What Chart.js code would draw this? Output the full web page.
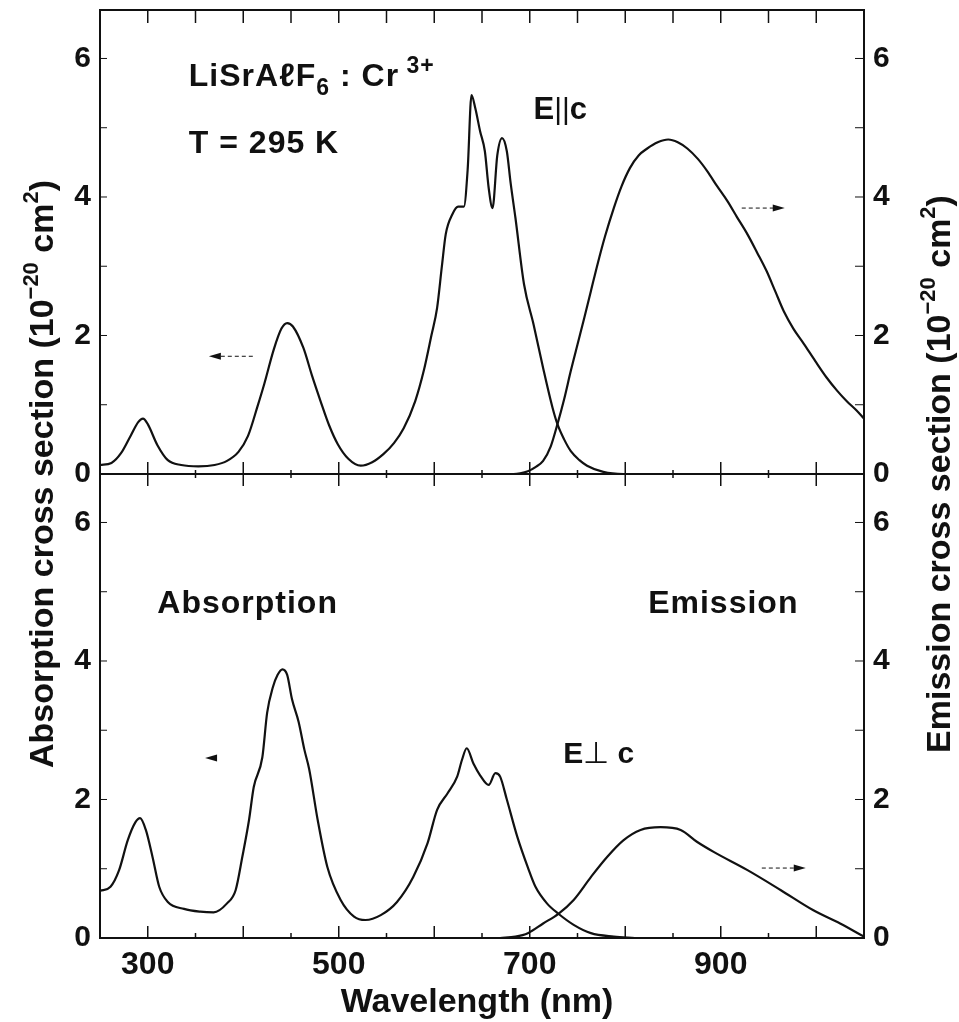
<!DOCTYPE html>
<html>
<head>
<meta charset="utf-8">
<script src="https://cdn.jsdelivr.net/npm/chart.js@4.4.1/dist/chart.umd.min.js"></script>
<style>
  html, body { margin: 0; padding: 0; background: #fff; }
  #wrap { position: relative; width: 959px; height: 1022px; }
</style>
</head>
<body>
<div id="wrap"><canvas id="spectra" width="959" height="1022"></canvas></div>
<script>
// Cross sections (10^-20 cm^2) vs wavelength (nm)

// top panel, E || c
const absParNm  = [250, 262, 272, 282, 290, 295, 300, 310, 321, 335, 353, 370, 383, 395, 405, 415, 422, 432, 440, 446, 452, 463, 472, 481, 490, 499, 510, 523, 535, 547, 558, 568, 580, 589, 597, 603, 608, 612, 619, 625, 631, 635, 639, 643, 648, 653, 657, 661, 666, 671, 676, 680, 685, 694, 704, 714, 724, 729, 736, 743, 752, 760, 777, 798, 830];
const absParVal = [0.13, 0.16, 0.30, 0.55, 0.75, 0.80, 0.72, 0.42, 0.20, 0.13, 0.11, 0.13, 0.19, 0.32, 0.55, 0.98, 1.30, 1.80, 2.10, 2.18, 2.13, 1.82, 1.42, 1.05, 0.70, 0.43, 0.22, 0.12, 0.17, 0.29, 0.45, 0.66, 1.05, 1.49, 2.00, 2.40, 3.00, 3.46, 3.75, 3.86, 3.86, 4.40, 5.47, 5.28, 4.95, 4.66, 4.13, 3.84, 4.60, 4.85, 4.66, 4.20, 3.70, 2.74, 2.16, 1.53, 0.95, 0.72, 0.50, 0.33, 0.20, 0.12, 0.03, 0.00, 0.00];

const emParNm  = [650, 683, 690, 698, 706, 714, 722, 729, 736, 743, 750, 757, 764, 771, 779, 788, 796, 805, 814, 823, 834, 845, 855, 865, 876, 886, 896, 907, 917, 928, 938, 948, 957, 966, 976, 987, 999, 1011, 1022, 1032, 1042, 1050];
const emParVal = [0.00, 0.00, 0.01, 0.04, 0.10, 0.19, 0.40, 0.72, 1.08, 1.49, 1.87, 2.25, 2.64, 3.03, 3.44, 3.84, 4.15, 4.42, 4.60, 4.70, 4.79, 4.83, 4.79, 4.70, 4.55, 4.37, 4.16, 3.94, 3.71, 3.46, 3.20, 2.93, 2.64, 2.35, 2.10, 1.88, 1.63, 1.39, 1.20, 1.05, 0.92, 0.80];

// bottom panel, E perpendicular to c
const absPerpNm  = [250, 261, 270, 279, 287, 292, 298, 305, 312, 321, 338, 355, 369, 383, 392, 399, 406, 411, 420, 425, 431, 436, 441, 446, 451, 458, 464, 469, 478, 488, 502, 516, 528, 544, 561, 578, 593, 603, 614, 624, 629, 634, 641, 648, 657, 664, 669, 676, 687, 698, 706, 718, 730, 746, 764, 788, 810];
const absPerpVal = [0.68, 0.74, 0.98, 1.41, 1.67, 1.73, 1.56, 1.17, 0.74, 0.52, 0.42, 0.38, 0.37, 0.50, 0.69, 1.17, 1.70, 2.18, 2.61, 3.25, 3.62, 3.80, 3.88, 3.80, 3.45, 3.12, 2.72, 2.44, 1.70, 1.03, 0.55, 0.31, 0.26, 0.33, 0.52, 0.88, 1.37, 1.85, 2.09, 2.33, 2.57, 2.74, 2.52, 2.35, 2.21, 2.38, 2.33, 2.00, 1.46, 1.02, 0.74, 0.50, 0.35, 0.19, 0.07, 0.02, 0.00];

const emPerpNm  = [669, 685, 698, 714, 730, 746, 764, 781, 798, 816, 837, 858, 875, 893, 928, 963, 997, 1025, 1050];
const emPerpVal = [0.00, 0.02, 0.07, 0.21, 0.35, 0.55, 0.88, 1.17, 1.41, 1.56, 1.60, 1.56, 1.39, 1.24, 0.98, 0.69, 0.40, 0.21, 0.02];

const xTickVals = [300, 500, 700, 900];
const yTickVals = [0, 2, 4, 6];

const FONT = "'Liberation Sans', Arial, Helvetica, sans-serif";
const INK = '#111';

const pts = (xs, ys) => xs.map((x, i) => ({ x: x, y: ys[i] }));

function line(ctx, x1, y1, x2, y2) {
  ctx.beginPath(); ctx.moveTo(x1, y1); ctx.lineTo(x2, y2); ctx.stroke();
}

// draw a sequence of [text, font, dy] pieces starting at x (or centred on x)
function runs(ctx, parts, x, y, center) {
  let total = 0;
  parts.forEach(p => { ctx.font = p[1]; total += ctx.measureText(p[0]).width; });
  let cx = center ? x - total / 2 : x;
  parts.forEach(p => {
    ctx.font = p[1];
    ctx.fillText(p[0], cx, y + (p[2] || 0));
    cx += ctx.measureText(p[0]).width;
  });
}

function arrow(ctx, xTail, xHead, y, dashed) {
  const dir = xHead > xTail ? 1 : -1;
  if (dashed) {
    ctx.save();
    ctx.lineWidth = 1;
    ctx.setLineDash([4, 3]);
    line(ctx, xTail, y, xHead - dir * 10, y);
    ctx.restore();
  }
  ctx.beginPath();
  ctx.moveTo(xHead, y);
  ctx.lineTo(xHead - dir * 12, y - 3.5);
  ctx.lineTo(xHead - dir * 12, y + 3.5);
  ctx.closePath();
  ctx.fill();
}

const framePlugin = {
  id: 'frame',
  afterDraw(chart) {
    const { ctx, chartArea: a, scales } = chart;
    const x = scales.x, yT = scales.yTop, yB = scales.yBot;
    const yMid = yT.getPixelForValue(0);
    ctx.save();
    ctx.strokeStyle = INK; ctx.fillStyle = INK;

    // top border and panel divider
    ctx.lineWidth = 2;
    line(ctx, a.left, a.top, a.right, a.top);
    line(ctx, a.left, yMid, a.right, yMid);

    // x tick marks (inward)
    ctx.lineWidth = 1.5;
    for (let v = 300; v <= 1000; v += 50) {
      const px = x.getPixelForValue(v);
      const major = v % 100 === 0;
      line(ctx, px, a.top, px, a.top + 13);
      line(ctx, px, yMid - (major ? 12 : 4), px, yMid + (major ? 12 : 4));
      line(ctx, px, a.bottom, px, a.bottom - (major ? 12 : 5));
    }
    // y tick marks
    ctx.lineWidth = 1;
    [yT, yB].forEach(ys => {
      for (let v = 1; v <= 6; v++) {
        const py = ys.getPixelForValue(v);
        line(ctx, a.left, py, a.left + 7, py);
        line(ctx, a.right - 9, py, a.right, py);
      }
    });

    // axis titles
    const tb = 'bold 34px ' + FONT, ts = 'bold 22px ' + FONT;
    ctx.textBaseline = 'alphabetic';
    ctx.textAlign = 'left';
    const midY = (a.top + a.bottom) / 2;
    [[53, 'Absorption cross section (10'], [950, 'Emission cross section (10']].forEach(t => {
      ctx.save();
      ctx.translate(t[0], midY);
      ctx.rotate(-Math.PI / 2);
      runs(ctx, [[t[1], tb], ['\u221220', ts, -15], [' cm', tb], ['2', ts, -15], [')', tb]], 0, 0, true);
      ctx.restore();
    });
    runs(ctx, [['Wavelength (nm)', tb]], (a.left + a.right) / 2 - 5, 1012, true);

    // panel annotations, placed in data coordinates
    const P = (nm, v, ys) => [x.getPixelForValue(nm), ys.getPixelForValue(v)];
    const fb = 'bold 32px ' + FONT, fs = 'bold 23px ' + FONT;
    ctx.letterSpacing = '1px';
    let p = P(343, 5.6, yT);
    runs(ctx, [['LiSrA\u2113F', fb], ['6', fs, 9], [' : Cr', fb], [' 3+', fs, -13]], p[0], p[1]);
    p = P(343, 4.63, yT);
    runs(ctx, [['T = 295 K', fb]], p[0], p[1]);
    p = P(310, 4.69, yB);
    runs(ctx, [['Absorption', fb]], p[0], p[1]);
    p = P(824, 4.69, yB);
    runs(ctx, [['Emission', fb]], p[0], p[1]);
    ctx.letterSpacing = '0px';
    p = P(704, 5.12, yT);
    runs(ctx, [['E', 'bold 31px ' + FONT], ['||', '30px ' + FONT], ['c', 'bold 31px ' + FONT]], p[0], p[1]);
    p = P(735, 2.53, yB);
    runs(ctx, [['E', 'bold 30px ' + FONT], ['\u22A5', '30px ' + FONT], [' c', 'bold 30px ' + FONT]], p[0], p[1]);

    // arrows pointing at the axis each curve belongs to
    let q = P(410, 1.70, yT); arrow(ctx, q[0], x.getPixelForValue(364), q[1], true);
    q = P(922, 3.84, yT); arrow(ctx, q[0], x.getPixelForValue(967), q[1], true);
    q = P(373, 2.60, yB); arrow(ctx, q[0], x.getPixelForValue(360), q[1], false);
    q = P(943, 1.01, yB); arrow(ctx, q[0], x.getPixelForValue(989), q[1], true);
    ctx.restore();
  }
};

const curve = (data, axis) => ({
  data: data, yAxisID: axis, borderColor: INK, borderWidth: 2.2, pointRadius: 0,
  cubicInterpolationMode: 'monotone', fill: false
});

const yScale = (pos, stack) => ({
  type: 'linear', position: pos, stack: stack, stackWeight: 1, min: 0, max: 6.7,
  grid: { display: false, drawTicks: false },
  border: { display: true, color: INK, width: 2 },
  ticks: { color: INK, font: { family: FONT, size: 30, weight: 'bold' }, padding: 9, autoSkip: false },
  afterBuildTicks: s => { s.ticks = yTickVals.map(v => ({ value: v })); },
  afterFit: s => { s.width = pos === 'left' ? 100 : 95; s.paddingTop = 0; s.paddingBottom = 0; }
});

new Chart(document.getElementById('spectra'), {
  type: 'line',
  data: {
    datasets: [
      curve(pts(absParNm, absParVal), 'yTop'),
      curve(pts(emParNm, emParVal), 'yTopR'),
      curve(pts(absPerpNm, absPerpVal), 'yBot'),
      curve(pts(emPerpNm, emPerpVal), 'yBotR')
    ]
  },
  options: {
    responsive: false,
    animation: false,
    layout: { padding: { top: 10, left: 0, right: 0, bottom: 0 } },
    plugins: { legend: { display: false }, tooltip: { enabled: false } },
    scales: {
      x: {
        type: 'linear', position: 'bottom', min: 250, max: 1050,
        grid: { display: false, drawTicks: false },
        border: { display: true, color: INK, width: 2 },
        ticks: { color: INK, font: { family: FONT, size: 32, weight: 'bold' }, padding: 8, maxRotation: 0, autoSkip: false },
        afterBuildTicks: s => { s.ticks = xTickVals.map(v => ({ value: v })); },
        afterFit: s => { s.height = 84; s.paddingLeft = 0; s.paddingRight = 0; }
      },
      // left stack is laid out in reverse order, so the lower panel comes first
      yBot: yScale('left', 'L'),
      yTop: yScale('left', 'L'),
      yTopR: yScale('right', 'R'),
      yBotR: yScale('right', 'R')
    }
  },
  plugins: [framePlugin]
});
</script>
</body>
</html>
